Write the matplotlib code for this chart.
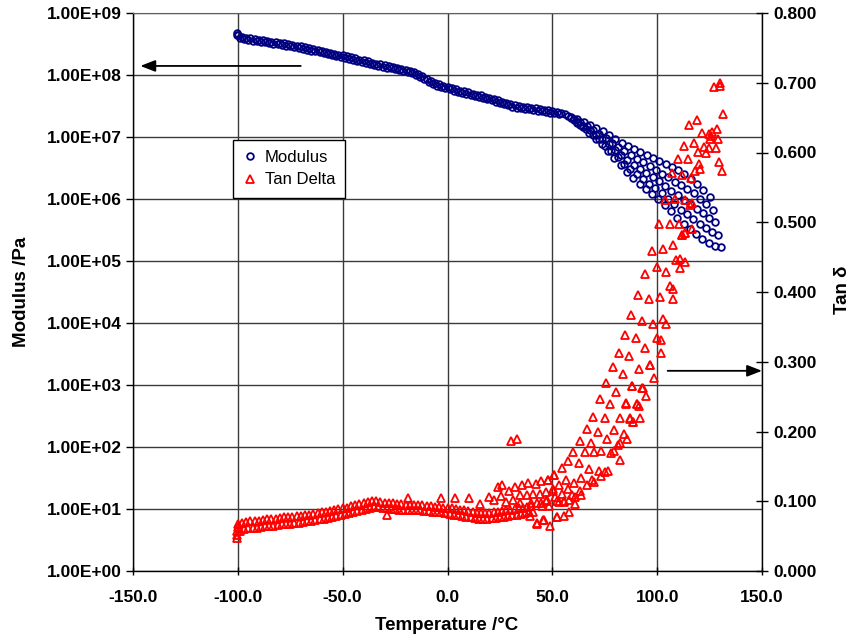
import matplotlib
matplotlib.use('Agg')
import matplotlib.pyplot as plt
from matplotlib.ticker import FixedLocator, FuncFormatter, NullLocator
from matplotlib.lines import Line2D

plt.rcParams['font.family'] = ['Liberation Sans', 'DejaVu Sans']

# ---------------- Modulus (log10 Pa) ----------------
mod_T_dense = [-100.5, -100.3, -100, -98, -96, -94, -92, -90, -88, -86, -84, -82, -80, -78, -76, -74,
               -72, -70, -68, -66, -64, -62, -60, -58, -56, -54, -52, -50, -48, -46, -44, -42,
               -40, -38, -36, -34, -32, -30, -28, -26, -24, -22, -20, -18, -16, -14, -12, -10,
               -8, -6, -4, -2, 0, 2, 4, 6, 8, 10, 12, 14, 16, 18, 20, 22, 24, 26, 28, 30,
               32, 34, 36, 38, 40, 42, 44, 46, 48, 50, 52, 54]
mod_log10_dense = [8.67, 8.64, 8.65, 8.62, 8.60, 8.59, 8.58, 8.57, 8.56, 8.55, 8.54, 8.53, 8.52, 8.51, 8.50, 8.49,
                   8.475, 8.46, 8.445, 8.43, 8.415, 8.40, 8.385, 8.37, 8.355, 8.34, 8.33, 8.32, 8.30, 8.285, 8.27, 8.25,
                   8.235, 8.22, 8.20, 8.185, 8.17, 8.155, 8.14, 8.125, 8.11, 8.10, 8.085, 8.07, 8.05, 8.02, 7.98, 7.94,
                   7.90, 7.87, 7.85, 7.83, 7.81, 7.79, 7.77, 7.75, 7.74, 7.72, 7.70, 7.68, 7.67, 7.65, 7.63, 7.61,
                   7.59, 7.57, 7.55, 7.53, 7.51, 7.50, 7.49, 7.48, 7.47, 7.46, 7.45, 7.44, 7.43, 7.42, 7.40, 7.385]
mod_T_dense2 = [-99, -97, -95, -93, -91, -89, -87, -85, -83, -81, -79, -77, -75, -73, -71, -69, -67, -65,
                -63, -61, -59, -57, -55, -53, -51, -49, -47, -45, -43, -41, -39, -37, -35, -33, -31, -29,
                -27, -25, -23, -21, -19, -17, -15, -13, -11, -9, -7, -5, -3, -1, 1, 3, 5, 7, 9, 11, 13,
                15, 17, 19, 21, 23, 25, 27, 29, 31, 33, 35, 37, 39, 41, 43, 45, 47, 49, 51, 53]
mod_log10_dense2 = [8.60, 8.58, 8.57, 8.555, 8.545, 8.535, 8.525, 8.515, 8.505, 8.495, 8.485, 8.475, 8.465,
                    8.45, 8.44, 8.425, 8.41, 8.395, 8.38, 8.365, 8.35, 8.335, 8.32, 8.305, 8.295, 8.28, 8.265,
                    8.25, 8.23, 8.215, 8.20, 8.18, 8.165, 8.15, 8.135, 8.12, 8.105, 8.09, 8.075, 8.065, 8.05,
                    8.03, 8.005, 7.97, 7.93, 7.89, 7.855, 7.83, 7.81, 7.79, 7.77, 7.75, 7.73, 7.715, 7.70,
                    7.68, 7.66, 7.645, 7.63, 7.61, 7.59, 7.57, 7.55, 7.53, 7.51, 7.49, 7.475, 7.465, 7.455,
                    7.445, 7.435, 7.425, 7.415, 7.405, 7.395, 7.38, 7.365]

# multi-frequency region: stripe start temperatures and 5 frequency bands
mod_stripe_T = [56, 59, 62, 65, 68, 71, 74, 77, 80, 83, 86, 89, 92, 95, 98, 101, 104, 107,
                110, 113, 116, 119, 122, 125]
mod_band_T_offset = [0.0, 1.4, 2.8, 4.2, 5.6]
mod_band1 = [7.37, 7.33, 7.29, 7.25, 7.19, 7.14, 7.09, 7.03, 6.97, 6.91, 6.86, 6.81, 6.76, 6.71, 6.66, 6.61,
             6.56, 6.51, 6.46, 6.40, 6.33, 6.24, 6.14, 6.03]
mod_band2 = [7.34, 7.29, 7.24, 7.18, 7.11, 7.05, 6.98, 6.91, 6.84, 6.77, 6.71, 6.65, 6.59, 6.53, 6.47, 6.41,
             6.35, 6.28, 6.23, 6.16, 6.09, 6.00, 5.92, 5.83]
mod_band3 = [7.30, 7.25, 7.18, 7.11, 7.04, 6.96, 6.88, 6.79, 6.71, 6.63, 6.55, 6.49, 6.42, 6.36, 6.29, 6.21,
             6.13, 6.06, 5.99, 5.92, 5.84, 5.77, 5.69, 5.63]
mod_band4 = [7.27, 7.20, 7.13, 7.04, 6.96, 6.86, 6.77, 6.67, 6.57, 6.48, 6.40, 6.32, 6.25, 6.18, 6.10, 6.00,
             5.92, 5.83, 5.76, 5.67, 5.60, 5.53, 5.47, 5.42]
mod_band5 = [7.23, 7.16, 7.07, 6.97, 6.88, 6.77, 6.66, 6.55, 6.44, 6.34, 6.24, 6.16, 6.08, 6.00, 5.91, 5.80,
             5.70, 5.60, 5.52, 5.43, 5.35, 5.29, 5.24, 5.22]
mod_bands = [mod_band1, mod_band2, mod_band3, mod_band4, mod_band5]

# ---------------- Tan delta ----------------
tan_T_upper = [-100, -98, -96, -94, -92, -90, -88, -86, -84, -82, -80, -78, -76, -74, -72, -70, -68, -66,
               -64, -62, -60, -58, -56, -54, -52, -50, -48, -46, -44, -42, -40, -38, -36, -34, -32, -30,
               -28, -26, -24, -22, -20, -18, -16, -14, -12, -10, -8, -6, -4, -2, 0, 2, 4, 6, 8, 10, 12,
               14, 16, 18, 20, 22, 24, 26, 28, 30, 32, 34, 36, 38, 40]
tan_upper = [0.068, 0.069, 0.070, 0.071, 0.072, 0.072, 0.073, 0.074, 0.075, 0.075, 0.076, 0.077, 0.077,
             0.078, 0.079, 0.079, 0.080, 0.081, 0.082, 0.083, 0.084, 0.085, 0.086, 0.088, 0.089, 0.090,
             0.091, 0.093, 0.094, 0.096, 0.097, 0.099, 0.100, 0.100, 0.099, 0.098, 0.097, 0.097, 0.096,
             0.096, 0.095, 0.095, 0.094, 0.094, 0.094, 0.093, 0.093, 0.092, 0.092, 0.091, 0.091, 0.090,
             0.089, 0.088, 0.087, 0.086, 0.085, 0.083, 0.083, 0.083, 0.083, 0.084, 0.085, 0.086, 0.087,
             0.088, 0.089, 0.090, 0.091, 0.092, 0.093]
tan_T_lower = [-99, -97, -95, -93, -91, -89, -87, -85, -83, -81, -79, -77, -75, -73, -71, -69, -67, -65,
               -63, -61, -59, -57, -55, -53, -51, -49, -47, -45, -43, -41, -39, -37, -35, -33, -31, -29,
               -27, -25, -23, -21, -19, -17, -15, -13, -11, -9, -7, -5, -3, -1, 1, 3, 5, 7, 9, 11, 13,
               15, 17, 19, 21, 23, 25, 27, 29, 31, 33, 35, 37, 39, 41]
tan_lower = [0.058, 0.060, 0.061, 0.062, 0.062, 0.063, 0.064, 0.065, 0.065, 0.066, 0.067, 0.067, 0.068,
             0.069, 0.069, 0.070, 0.071, 0.072, 0.073, 0.074, 0.075, 0.076, 0.078, 0.079, 0.080, 0.082,
             0.083, 0.085, 0.086, 0.088, 0.089, 0.091, 0.092, 0.092, 0.091, 0.090, 0.089, 0.089, 0.088,
             0.088, 0.088, 0.087, 0.087, 0.087, 0.086, 0.086, 0.085, 0.085, 0.084, 0.083, 0.082, 0.081,
             0.080, 0.079, 0.078, 0.077, 0.076, 0.075, 0.075, 0.075, 0.076, 0.076, 0.077, 0.078, 0.079,
             0.080, 0.081, 0.082, 0.083, 0.084, 0.085]
tan_scatter_T = [-100.5, -100.3, -100.2, -100.1, -29, -19, -3.3, 3.5, 10.2, 15.4, 19.7, 22.1, 24,
                 26.1, 29.3, 32.4, 35.3, 38.5, 42, 44.8, 47.8, 50.7,
                 25.3, 28.1, 31.3, 34.5, 37.7, 40.9, 44, 47.2, 50.4,
                 39.3, 42.8, 45.9, 49.1, 52, 34.8, 39.6, 44.4, 47.6, 30.5, 33.3,
                 75.8, 88, 92.8, 80.6, 72.6, 77.7, 85.2, 90.2, 91.3, 69.5, 74.9, 82.2, 87, 88.3, 66.6, 71.7,
                 79.4, 84.4, 85.6, 63.4, 68.5, 76.3, 82.2, 81.2, 60, 65.7, 70.1, 73, 78.1, 79.5, 82.5, 57.4,
                 62.6, 67.4, 72.2, 74.9, 76.5, 73.3, 54.4, 63.9, 68.7, 51, 56.3, 60.2, 66.3, 69.8, 48, 53,
                 57.6, 63, 63.9, 50.2, 54.7, 59.5, 61, 51.5, 55.5, 61, 57.8, 47.2, 48.5, 52, 53.3, 55.5, 45,
                 42.8, 57.8, 55.5, 52, 45.6, 42.5,
                 97.3, 102.7, 107.5, 109, 110.8, 113.5, 110.8, 100, 94, 104, 106, 107.6, 107.6, 101.3, 96.2,
                 90.8, 87.6, 92.8, 97.8, 102.9, 104.4, 84.7, 89.8, 100, 101.6, 94.4, 86.8, 101.6, 83.8, 91.2,
                 96.8, 98.4, 88.2, 93.3, 94.9, 85.1, 90.2, 86.9, 92, 88.5, 78.8, 81.7, 96.5, 112, 113.5,
                 127.1, 130.2, 129.8, 131.5, 115.4, 118.8, 121.6, 124.5, 125.5, 126.3, 125, 128.6, 129, 128,
                 129.7, 131, 112.7, 117.8, 119.7, 122.3, 123.2, 124.5, 109.8, 114.6, 119.9, 120.5, 118.2,
                 116, 111.9, 107.2, 103.5, 108.7, 113.2, 115.6, 116.5, 101, 105.9, 110.3, 116.4, 112, 113.3]
tan_scatter = [0.052, 0.047, 0.057, 0.063, 0.080, 0.105, 0.104, 0.104, 0.104, 0.096, 0.106, 0.102, 0.120,
               0.123, 0.115, 0.121, 0.124, 0.126, 0.125, 0.129, 0.131, 0.138,
               0.108, 0.099, 0.102, 0.109, 0.109, 0.110, 0.110, 0.113, 0.114,
               0.079, 0.069, 0.073, 0.064, 0.078, 0.097, 0.097, 0.098, 0.102, 0.186, 0.189,
               0.270, 0.265, 0.263, 0.257, 0.246, 0.240, 0.240, 0.239, 0.236, 0.221, 0.220, 0.219, 0.218,
               0.213, 0.204, 0.200, 0.202, 0.196, 0.189, 0.186, 0.183, 0.189, 0.184, 0.181, 0.171, 0.170,
               0.170, 0.172, 0.169, 0.172, 0.159, 0.157, 0.155, 0.146, 0.144, 0.142, 0.144, 0.136, 0.147,
               0.134, 0.131, 0.138, 0.131, 0.126, 0.123, 0.127, 0.130, 0.124, 0.117, 0.114, 0.109, 0.117,
               0.110, 0.109, 0.106, 0.106, 0.099, 0.096, 0.102, 0.101, 0.093, 0.101, 0.099, 0.101, 0.093,
               0.097, 0.084, 0.079, 0.078, 0.073, 0.068,
               0.459, 0.462, 0.467, 0.446, 0.448, 0.443, 0.434, 0.436, 0.426, 0.428, 0.409, 0.405, 0.390,
               0.393, 0.390, 0.395, 0.367, 0.359, 0.354, 0.362, 0.354, 0.338, 0.334, 0.334, 0.331, 0.319,
               0.308, 0.312, 0.283, 0.289, 0.295, 0.276, 0.265, 0.263, 0.251, 0.241, 0.239, 0.219, 0.219,
               0.213, 0.292, 0.312, 0.296, 0.482, 0.485,
               0.694, 0.700, 0.695, 0.655, 0.639, 0.646, 0.628, 0.627, 0.624, 0.630, 0.620, 0.634, 0.619,
               0.606, 0.587, 0.573, 0.609, 0.614, 0.601, 0.608, 0.600, 0.606, 0.590, 0.590, 0.584, 0.577,
               0.574, 0.563, 0.568, 0.571, 0.532, 0.533, 0.532, 0.525, 0.528, 0.498, 0.498, 0.497, 0.491,
               0.482, 0.484]

x_ticks = [-150, -100, -50, 0, 50, 100, 150]
y_left_ticks = [1e0, 1e1, 1e2, 1e3, 1e4, 1e5, 1e6, 1e7, 1e8, 1e9]
y_right_ticks = [0.0, 0.1, 0.2, 0.3, 0.4, 0.5, 0.6, 0.7, 0.8]

# ---------------- Figure ----------------
W, H = 855, 639
fig = plt.figure(figsize=(W / 100, H / 100), dpi=100)
ax = fig.add_axes([133 / W, 1 - 571 / H, (762 - 133) / W, (571 - 13) / H])
ax.set_yscale('log')
ax.set_xlim(-150, 150)
ax.set_ylim(1, 1e9)
ax.xaxis.set_major_locator(FixedLocator(x_ticks))
ax.yaxis.set_major_locator(FixedLocator(y_left_ticks))
ax.yaxis.set_minor_locator(NullLocator())
ax.xaxis.set_major_formatter(FuncFormatter(lambda v, p: f"{v:.1f}"))
ax.yaxis.set_major_formatter(FuncFormatter(lambda v, p: f"{v:.2E}"))
ax.grid(True, which='major', color='#3a3a3a', linewidth=1.0)
ax.set_axisbelow(True)
for s in ['left', 'bottom', 'right']:
    ax.spines[s].set_color('black')
    ax.spines[s].set_linewidth(1.0)
ax.spines['top'].set_color('#606060')
ax.tick_params(axis='y', direction='out', length=5, width=1, labelsize=12.5, pad=3)
ax.tick_params(axis='x', direction='inout', length=6, width=1, labelsize=12.5, pad=11)
for lab in ax.get_xticklabels() + ax.get_yticklabels():
    lab.set_fontweight('bold')

mod_style = dict(linestyle='none', marker='o', mfc='none', mec='#000080', mew=1.3, ms=4.8)
ax.plot(mod_T_dense, [10 ** v for v in mod_log10_dense], **mod_style)
ax.plot(mod_T_dense2, [10 ** v for v in mod_log10_dense2], **mod_style)
for band, off in zip(mod_bands, mod_band_T_offset):
    ax.plot([t + off for t in mod_stripe_T], [10 ** v for v in band], **mod_style)

ax2 = ax.twinx()
ax2.set_ylim(0, 0.8)
ax2.yaxis.set_major_locator(FixedLocator(y_right_ticks))
ax2.yaxis.set_major_formatter(FuncFormatter(lambda v, p: f"{v:.3f}"))
ax2.tick_params(axis='y', direction='inout', length=9, width=1, labelsize=12.5, pad=4)
for lab in ax2.get_yticklabels():
    lab.set_fontweight('bold')
for s in ax2.spines.values():
    s.set_visible(False)

tan_style = dict(linestyle='none', marker='^', mfc='none', mec='#ff0000', mew=1.3, ms=5.4)
ax2.plot(tan_T_upper, tan_upper, **tan_style)
ax2.plot(tan_T_lower, tan_lower, **tan_style)
ax2.plot(tan_scatter_T, tan_scatter, **tan_style)

# arrows
ax.annotate('', xy=(-146.5, 1.4e8), xytext=(-70, 1.4e8),
            arrowprops=dict(arrowstyle='-|>,head_length=0.9,head_width=0.35', color='black', lw=1.3,
                            shrinkA=0, shrinkB=0))
ax2.annotate('', xy=(150, 0.287), xytext=(105, 0.287),
             arrowprops=dict(arrowstyle='-|>,head_length=0.9,head_width=0.35', color='black', lw=1.3,
                             shrinkA=0, shrinkB=0), annotation_clip=False)

# labels
fig.text(22 / W, 1 - 292 / H, 'Modulus /Pa', rotation=90, ha='center', va='center',
         fontsize=13.5, fontweight='bold')
fig.text(842 / W, 1 - 290 / H, 'Tan δ', rotation=90, ha='center', va='center',
         fontsize=13.5, fontweight='bold')
fig.text(447 / W, 1 - 626 / H, 'Temperature /°C', ha='center', va='center',
         fontsize=13.5, fontweight='bold')

# legend
handles = [Line2D([], [], **mod_style), Line2D([], [], **tan_style)]
leg = ax2.legend(handles, ['Modulus', 'Tan Delta'], loc='upper left',
                 bbox_to_anchor=((233 - 133) / 629, (571 - 140) / 558), borderaxespad=0,
                 fontsize=12, frameon=True, fancybox=False, framealpha=1, edgecolor='black',
                 handlelength=0.8, handletextpad=0.5, borderpad=0.6, labelspacing=0.45)
leg.get_frame().set_linewidth(1.0)

fig.savefig('out.png', dpi=100)
